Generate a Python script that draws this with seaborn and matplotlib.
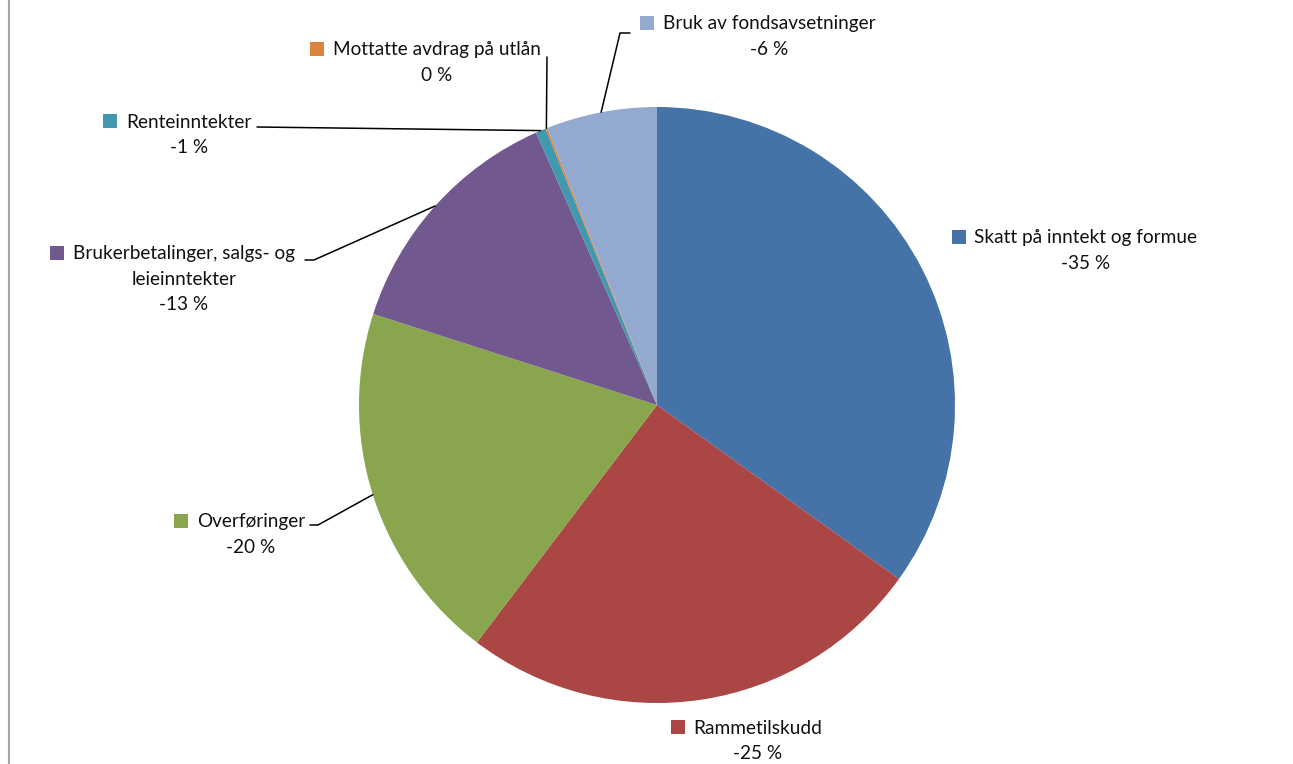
import matplotlib
matplotlib.use("Agg")
import numpy as np
import matplotlib.pyplot as plt
import seaborn as sns

# Slices, clockwise from 12 o'clock (share of income, percent)
categories = ["Skatt på inntekt og formue", "Rammetilskudd", "Overføringer",
              "Brukerbetalinger, salgs- og\nleieinntekter", "Renteinntekter",
              "Mottatte avdrag på utlån", "Bruk av fondsavsetninger"]
shares = [34.9, 25.4, 19.6, 13.4, 0.55, 0.1, 6.0]
colors = ["#4572A7", "#AA4643", "#89A54E", "#71588F", "#4198AF", "#DB843D", "#93A9CF"]

# label text centre (x, y of first line), in pixels from top-left
label_pos = [(1086, 238), (758, 728), (251, 522), (184, 254), (189, 122), (437, 50), (769, 24)]
# leader line start points (None = no leader)
leader_start = [None, None, [(310, 525), (318, 525)], [(305, 260), (314, 260)],
                [(257, 127)], [(547, 57)], [(630, 33), (620, 33)]]

sns.set_style("white")
plt.rcParams["font.family"] = ["Lato", "DejaVu Sans"]

W, H = 1293, 764
fig = plt.figure(figsize=(W / 100, H / 100), dpi=100)
ax = fig.add_axes([0, 0, 1, 1])

cx, cy, r = 657, 405, 298
wedges, _ = ax.pie(shares, colors=sns.color_palette(colors), startangle=-90,
                   counterclock=True, center=(cx, cy), radius=r,
                   wedgeprops=dict(linewidth=0))
ax.set_xlim(0, W)
ax.set_ylim(H, 0)
ax.set_aspect("equal")
ax.axis("off")

# left frame edge
ax.plot([9, 9], [0, H], color="#a6a6a6", lw=1.5, solid_capstyle="butt")

fig.canvas.draw()
renderer = fig.canvas.get_renderer()
fs = 13.7
line_h = 25.5
for i, (name, val) in enumerate(zip(categories, shares)):
    x, y = label_pos[i]
    lines = name.split("\n") + [f"{-round(val)} %"]
    first = None
    for k, ln in enumerate(lines):
        t = ax.text(x, y + k * line_h, ln, ha="center", va="center",
                    fontsize=fs, color="#111111")
        if k == 0:
            first = t
    bb = first.get_window_extent(renderer=renderer)
    # window coords -> data coords (y flipped)
    x0 = ax.transData.inverted().transform((bb.x0, 0))[0]
    ax.scatter([x0 - 16], [y - 1], marker="s", s=100, color=colors[i], linewidths=0)

    if leader_start[i] is not None:
        w = wedges[i]
        mid = np.deg2rad((w.theta1 + w.theta2) / 2)
        ex, ey = cx + r * np.cos(mid), cy + r * np.sin(mid)
        pts = leader_start[i] + [(ex, ey)]
        ax.plot([p[0] for p in pts], [p[1] for p in pts], color="black", lw=1.1)

fig.savefig("out.png", dpi=100)
